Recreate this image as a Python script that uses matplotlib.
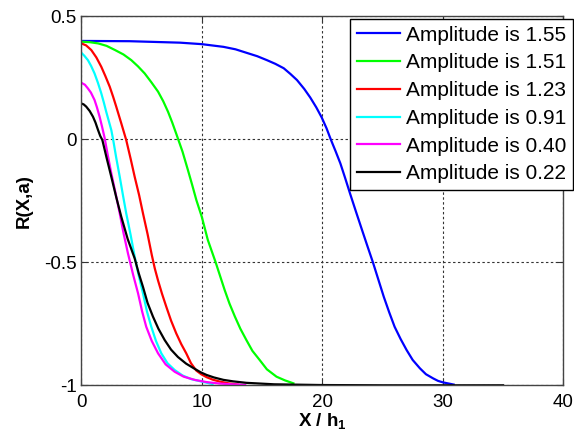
import numpy as np
import matplotlib
matplotlib.use("Agg")
import matplotlib.pyplot as plt

plt.rcParams['font.family'] = ['Liberation Sans', 'DejaVu Sans']
plt.rcParams['mathtext.fontset'] = 'custom'
plt.rcParams['mathtext.rm'] = 'Liberation Sans'
plt.rcParams['mathtext.bf'] = 'Liberation Sans:bold'

# curves (x in units of h1, R(X,a))
x_155 = [0, 4, 8.2, 10, 11.8, 12.8, 13.7, 14.6, 15.4, 16.1, 16.8, 17.35, 17.9, 18.5,
         19.0, 19.5, 19.95, 20.35, 20.7, 21.1, 21.5, 21.9, 22.3, 22.8, 23.3, 23.75,
         24.2, 24.65, 25.1, 25.55, 26.0, 26.5, 27.0, 27.5, 28.1, 28.6, 29.2, 29.6,
         30.0, 30.9]
r_155 = [0.40, 0.399, 0.393, 0.387, 0.376, 0.366, 0.352, 0.338, 0.322, 0.307, 0.289,
         0.266, 0.241, 0.205, 0.17, 0.13, 0.089, 0.045, 0.0, -0.048, -0.098, -0.158,
         -0.22, -0.295, -0.369, -0.435, -0.5, -0.57, -0.64, -0.703, -0.762, -0.812,
         -0.857, -0.897, -0.931, -0.955, -0.972, -0.982, -0.988, -0.997]

x_151 = [0, 0.7, 1.4, 2.1, 2.8, 3.5, 4.15, 4.7, 5.26, 5.8, 6.37, 6.8, 7.2, 7.55, 7.9,
         8.4, 8.85, 9.2, 9.55, 10.0, 10.5, 11.15, 11.9, 12.3, 12.75, 13.2, 13.7, 14.2,
         14.8, 15.4, 16.2, 16.9, 17.6]
r_151 = [0.397, 0.395, 0.39, 0.38, 0.363, 0.345, 0.322, 0.297, 0.268, 0.233, 0.194,
         0.155, 0.112, 0.068, 0.02, -0.05, -0.125, -0.185, -0.247, -0.315, -0.409,
         -0.5, -0.613, -0.668, -0.721, -0.77, -0.816, -0.86, -0.897, -0.935, -0.965,
         -0.98, -0.992]

x_123 = [0, 0.4, 0.83, 1.25, 1.66, 2.0, 2.36, 2.65, 2.9, 3.32, 3.73, 4.1, 4.43, 4.8,
         5.12, 5.5, 5.85, 6.1, 6.37, 6.7, 7.05, 7.45, 7.88, 8.3, 8.71, 9.1, 9.54,
         9.95, 10.4, 10.9, 11.5, 12.2, 13]
r_123 = [0.39, 0.382, 0.363, 0.333, 0.295, 0.257, 0.214, 0.172, 0.133, 0.065, -0.003,
         -0.08, -0.152, -0.227, -0.301, -0.385, -0.47, -0.525, -0.574, -0.628, -0.68,
         -0.737, -0.789, -0.833, -0.87, -0.91, -0.94, -0.955, -0.967, -0.977, -0.985,
         -0.992, -0.997]

x_091 = [0, 0.25, 0.55, 0.82, 1.1, 1.38, 1.66, 1.87, 2.07, 2.49, 2.65, 2.9, 3.19,
         3.45, 3.73, 4.1, 4.43, 4.75, 5.12, 5.45, 5.81, 6.2, 6.64, 7.15, 7.75, 8.4,
         9.13, 10.0, 10.9]
r_091 = [0.352, 0.34, 0.322, 0.298, 0.268, 0.23, 0.187, 0.15, 0.112, 0.038, -0.003,
         -0.075, -0.152, -0.225, -0.301, -0.39, -0.477, -0.55, -0.626, -0.7, -0.762,
         -0.82, -0.87, -0.91, -0.938, -0.96, -0.975, -0.985, -0.995]

x_040 = [0, 0.3, 0.55, 0.8, 1.1, 1.3, 1.52, 1.73, 1.94, 2.2, 2.49, 2.85, 3.19, 3.5,
         3.87, 4.3, 4.71, 5.05, 5.39, 5.85, 6.37, 7.0, 7.75, 8.5, 9.41, 10.4, 11.5,
         12.5, 13.6]
r_040 = [0.23, 0.222, 0.207, 0.19, 0.16, 0.13, 0.092, 0.05, 0.005, -0.065, -0.138,
         -0.22, -0.301, -0.38, -0.463, -0.55, -0.626, -0.7, -0.762, -0.82, -0.87,
         -0.915, -0.945, -0.965, -0.978, -0.987, -0.993, -0.996, -0.998]

x_022 = [0, 0.2, 0.41, 0.7, 0.97, 1.18, 1.39, 1.57, 1.75, 2.1, 2.49, 2.9, 3.32, 3.85,
         4.43, 4.77, 5.12, 5.5, 5.95, 6.4, 6.92, 7.45, 8.02, 8.7, 9.41, 9.9, 10.4,
         11.0, 11.8, 12.6, 13.7, 16, 20, 25, 30, 35]
r_022 = [0.146, 0.142, 0.133, 0.115, 0.092, 0.068, 0.038, 0.014, -0.003, -0.075,
         -0.152, -0.235, -0.315, -0.405, -0.484, -0.545, -0.6, -0.665, -0.721, -0.77,
         -0.816, -0.855, -0.885, -0.912, -0.933, -0.947, -0.958, -0.968, -0.978,
         -0.984, -0.99, -0.996, -0.999, -1, -1, -1]

labels = ['Amplitude is 1.55', 'Amplitude is 1.51', 'Amplitude is 1.23',
          'Amplitude is 0.91', 'Amplitude is 0.40', 'Amplitude is 0.22']
colors = ['#0000ff', '#00ff00', '#ff0000', '#00ffff', '#ff00ff', '#000000']

curves = [(x_155, r_155), (x_151, r_151), (x_123, r_123),
          (x_091, r_091), (x_040, r_040), (x_022, r_022)]

fig = plt.figure(figsize=(5.74, 4.42), dpi=100)
ax = fig.add_axes([0.1416, 0.1283, 0.8398, 0.8347])

for (xs, rs), lab, col in zip(curves, labels, colors):
    ax.plot(xs, rs, color=col, lw=1.6, label=lab)

ax.set_xlim(0, 40)
ax.set_ylim(-1, 0.5)
ax.set_xticks([0, 10, 20, 30, 40])
ax.set_yticks([-1, -0.5, 0, 0.5])
ax.set_yticklabels(['-1', '-0.5', '0', '0.5'])
ax.grid(True, color='#333333', linestyle=(0, (2.2, 2.2)), linewidth=0.8)
ax.tick_params(direction='in', length=4, labelsize=13.5, top=True, right=True,
               color='#333333')
ax.tick_params(axis='x', pad=6)
for sp in ax.spines.values():
    sp.set_color('#444444')
    sp.set_linewidth(1.0)

ax.set_xlabel(r'X / h$_\mathbf{1}$', fontsize=13.5, fontweight='bold', labelpad=1)
ax.set_ylabel('R(X,a)', fontsize=13.5, fontweight='bold', labelpad=8)

leg = ax.legend(loc='upper left', bbox_to_anchor=(0.5575, 0.993), fontsize=15,
                frameon=True, fancybox=False, framealpha=1, edgecolor='black',
                borderaxespad=0, handlelength=2.1, handletextpad=0.25,
                labelspacing=0.42, borderpad=0.32)
leg.get_frame().set_linewidth(1.0)

fig.savefig('out.png', dpi=100)
